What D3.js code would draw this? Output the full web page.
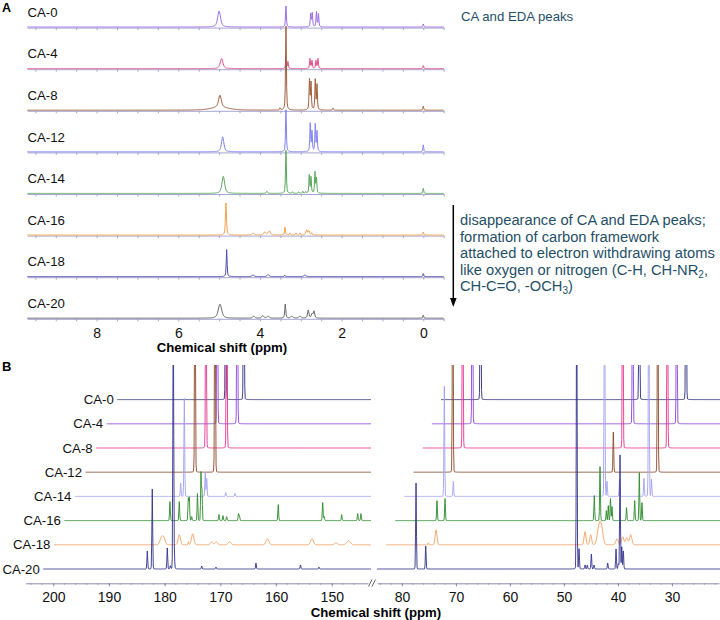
<!DOCTYPE html>
<html><head><meta charset="utf-8">
<script src="https://cdn.jsdelivr.net/npm/d3@7"></script>
<style>body{margin:0;background:#fff} svg{display:block;font-family:"Liberation Sans",Arial,Helvetica,sans-serif}</style>
</head><body><svg id="c" width="720" height="620"></svg>
<script>
// ---------- DATA ----------
const T = 300; // peak running off the top of panel B (clipped)
const sampleLabels = ["CA-0","CA-4","CA-8","CA-12","CA-14","CA-16","CA-18","CA-20"];

// Panel A: 1H NMR peaks [ppm, intensity, optional half-width ppm]
const hCA0  = [[5.00,16,0.042],[3.363,21],[2.758,13],[2.719,14],[2.616,15],[2.567,13],[0,3]];
const hCA4  = [[4.94,10,0.04],[3.363,8],[3.314,7],[2.775,10],[2.726,8],[2.628,8],[2.579,10],[0,3]];
const hCA8  = [[4.98,12,0.04],[4.98,3,0.25],[3.363,84],[2.787,30],[2.750,27],[2.645,30],[2.603,25],[3.51,2],[2.21,2],[0,4]];
const hCA12 = [[4.913,15,0.035],[3.363,42],[2.768,28],[2.726,20],[2.645,27],[2.603,20],[0,7]];
const hCA14 = [[4.898,17,0.04],[3.363,43],[2.792,18],[2.750,16],[2.652,21],[2.616,15],[3.83,2,0.02],[3.20,1.5],[3.05,1.5],[2.95,2],[2.88,1.5],[0,5]];
const hCA16 = [[4.832,32,0.015],[4.164,2,0.03],[3.877,3,0.03],[3.772,4,0.03],[3.387,8],[3.265,2],[3.118,2],[3.02,2],[2.856,5,0.02],[2.80,4,0.02],[2.73,2],[0,3]];
const hCA18 = [[4.815,27,0.012],[4.17,1.5,0.03],[3.80,2,0.03],[3.39,1.5],[2.90,1.5,0.03],[0,3]];
const hCA20 = [[4.979,14,0.05],[4.15,2,0.03],[3.93,2.5,0.03],[3.80,2,0.03],[3.38,14,0.015],[3.22,2,0.03],[3.02,2,0.03],[2.817,8,0.02],[2.726,4,0.02],[2.677,7,0.02],[0,3]];
const hPeaks = [hCA0,hCA4,hCA8,hCA12,hCA14,hCA16,hCA18,hCA20];
const hColors = ["#9d6ee6","#e4508c","#a0603e","#8484f0","#5aa85a","#f5a24e","#4c4caa","#666666"];
const hTicks = [8,6,4,2,0];

// Panel B: 13C NMR peaks [ppm, intensity, optional half-width ppm]
const cCA0  = [[182.32,T],[179.08,T],[77.31,T],[47.91,T],[39.26,T]];
const cCA4  = [[181.95,T],[178.36,T],[77.14,T],[47.44,T],[39.29,T]];
const cCA8  = [[182.08,T],[178.36,T],[77.23,T],[47.59,T],[39.33,T]];
const cCA12 = [[182.15,T],[178.56,T],[77.38,T],[47.64,40],[39.42,T]];
const cCA14 = [[182.82,13],[182.17,98],[178.41,24],[178.15,18],[174.73,4],[173.07,3],[77.25,110],[75.58,15],[47.58,T],[47.12,15],[44.80,17],[40.27,18],[39.38,T],[38.88,17]];
const cCA16 = [[182.85,19],[181.18,19],[179.56,22],[179.38,23],[178.95,4],[177.91,27],[177.28,48],[177.10,30],[174.05,6],[173.33,5],[172.67,4],[170.55,7],[170.37,5],[163.41,16],[155.43,18],[155.15,4],[152.02,6],[149.15,7],[148.56,7],
               [76.91,20],[75.42,22],[47.78,25],[46.72,54],[45.55,10],[45.19,15],[44.78,22],[44.50,14],[41.81,13],[40.30,20],[39.44,48],[38.95,18]];
const cCA18 = [[182.44,7,0.35],[182.03,5,0.3],[179.28,10,0.25],[177.66,3],[176.87,11,0.25],[173.46,3,0.25],[172.64,3,0.25],[170.27,3,0.3],[163.44,6,0.3],[155.46,6,0.3],[151.15,2,0.3],[149.05,3,0.3],[148.63,2,0.3],
               [76.82,2],[75.39,15,0.2],[47.81,13,0.2],[46.75,10,0.2],[45.40,10,0.3],[45.03,16,0.3],[44.66,12,0.3],[41.88,6,0.25],[40.83,8,0.25],[40.08,7,0.25],[39.34,10,0.25]];
const cCA20 = [[183.12,18],[182.23,80],[179.53,21],[178.99,3],[178.46,T],[178.28,15],[173.36,3],[170.79,2],[163.61,6],[155.62,4],[152.3,2],
               [77.41,86],[75.61,23],[47.65,T],[47.22,20],[46.11,4],[45.69,4],[44.94,15],[44.44,4],[41.91,6],[40.37,20],[39.94,5],[39.63,114],[39.31,22],[39.02,18]];
const cPeaks = [cCA0,cCA4,cCA8,cCA12,cCA14,cCA16,cCA18,cCA20];
const cColors = ["#2d2d7e","#8c42d8","#e6338c","#8b4726","#a2a2f0","#2a8a2a","#f4a062","#30308a"];
const cTicksLeft = [200,190,180,170,160,150];
const cTicksRight = [80,70,60,50,40,30];

// ---------- DRAW ----------
const svg = d3.select("#c");
const yInt = d3.scaleLinear().domain([0,100]).range([0,100]);
function shape(d,w,eta){ const r=d/w; return (1-eta)*Math.exp(-Math.LN2*r*r) + eta/(1+r*r); }
function tracePath(peaks, scale, dx, ppmFrom, ppmTo, defW, eta, base){
  const a = scale(ppmFrom)+dx, b = scale(ppmTo)+dx;
  const lo = Math.min(a,b), hi = Math.max(a,b);
  const pk = peaks.map(p=>({c:scale(p[0])+dx, h:yInt(p[1]), w:Math.abs(scale(p[0]+(p[2]||defW))-scale(p[0]))}))
                  .filter(p=>p.c>=lo-30 && p.c<=hi+30);
  const xs = d3.range(lo,hi,0.5).concat([hi]).concat(pk.map(p=>p.c).filter(c=>c>=lo&&c<=hi)).sort(d3.ascending);
  return d3.line()(xs.map(x=>[x, base - d3.sum(pk,p=>p.h*shape(x-p.c,p.w,eta))]));
}

// Panel A
const xTop = d3.scaleLinear().domain([9.7,-0.5]).range([27.2,443.7]);
const topBase = i => 27 + 41.6*i;
sampleLabels.forEach((lab,i)=>{
  const g = svg.append("g").attr("transform",`translate(0,${topBase(i)+0.6})`)
    .call(d3.axisBottom(xTop).tickValues(d3.range(-0.5,9.51,0.5)).tickSize(2.5).tickSizeOuter(0).tickPadding(6.5)
      .tickFormat(d => (i===7 && hTicks.includes(d)) ? d : ""));
  g.select(".domain").attr("stroke","#a6a6d2");
  g.selectAll(".tick line").attr("stroke","#a6a6d2");
  g.selectAll("text").attr("font-size",14).attr("fill","#111").attr("font-family","Liberation Sans, Arial, sans-serif");
});
sampleLabels.forEach((lab,i)=>{
  svg.append("path").attr("d",tracePath(hPeaks[i],xTop,0,9.7,-0.5,0.012,0.6,topBase(i)))
    .attr("fill","none").attr("stroke",hColors[i]).attr("stroke-width",1);
  svg.append("text").attr("x",27.5).attr("y",topBase(i)-10.3).attr("font-size",13.2).attr("fill","#111").text(lab);
});
svg.append("text").attr("x",222).attr("y",351.5).attr("text-anchor","middle").attr("font-size",13.2)
  .attr("font-weight","bold").text("Chemical shift (ppm)");
svg.append("text").attr("x",2).attr("y",12).attr("font-size",12.5).attr("font-weight","bold").text("A");

// Annotations
const teal = "#1f4f66";
svg.append("text").attr("x",461).attr("y",21).attr("font-size",13.2).attr("fill",teal).text("CA and EDA peaks");
svg.append("line").attr("x1",453.3).attr("x2",453.3).attr("y1",205).attr("y2",300).attr("stroke","#000").attr("stroke-width",1.5);
svg.append("path").attr("d","M450,298L456.6,298L453.3,307Z").attr("fill","#000");
const note = svg.append("text").attr("font-size",14.7).attr("fill",teal);
[["disappearance of CA and EDA peaks;"],["formation of carbon framework"],["attached to electron withdrawing atoms"],
 ["like oxygen or nitrogen (C-H, CH-NR","2",","],["CH-C=O, -OCH","3",")"]].forEach((ln,k)=>{
  note.append("tspan").attr("x",460).attr("y",225+16.5*k).text(ln[0]);
  if(ln.length>1){
    note.append("tspan").attr("font-size",10).attr("dy",3).text(ln[1]);
    note.append("tspan").attr("dy",-3).text(ln[2]);
  }
});

// Panel B
const xL = d3.scaleLinear().domain([205,143.5]).range([25.45,368]);
const xR = d3.scaleLinear().domain([84.6,21.3]).range([377.2,719]);
const defs = svg.append("defs");
defs.append("clipPath").attr("id","clipL").append("rect").attr("x",0).attr("y",365).attr("width",371).attr("height",240);
defs.append("clipPath").attr("id","clipR").append("rect").attr("x",376).attr("y",365).attr("width",344).attr("height",240);
const gL = svg.append("g").attr("clip-path","url(#clipL)");
const gR = svg.append("g").attr("clip-path","url(#clipR)");
sampleLabels.forEach((lab,j)=>{
  const k = 7-j;
  const base = 569 - 24.2*k, dxL = 10.57*k, dxR = 9.14*k;
  gL.append("path").attr("d",tracePath(cPeaks[j].filter(p=>p[0]>100),xL,dxL,201.8,135,0.08,0.03,base))
    .attr("fill","none").attr("stroke",cColors[j]).attr("stroke-width",0.9);
  gR.append("path").attr("d",tracePath(cPeaks[j].filter(p=>p[0]<100),xR,dxR,84.63,10,0.08,0.03,base))
    .attr("fill","none").attr("stroke",cColors[j]).attr("stroke-width",0.9);
  svg.append("text").attr("x",xL(201.8)+dxL-3.5).attr("y",base).attr("dy","0.35em").attr("text-anchor","end")
    .attr("font-size",13.2).attr("fill","#111").text(lab);
});
const axisY = 583.3, axCol = "#8a8ab8";
[[xL,cTicksLeft,d3.range(146,205,2)],[xR,cTicksRight,d3.range(22,85,2)]].forEach(([sc,tv,minor])=>{
  const g = svg.append("g").attr("transform",`translate(0,${axisY})`)
    .call(d3.axisBottom(sc).tickValues(tv).tickSize(3).tickSizeOuter(0).tickPadding(5.5));
  g.select(".domain").attr("stroke",axCol);
  g.selectAll(".tick line").attr("stroke",axCol);
  g.selectAll("text").attr("font-size",14).attr("fill","#111").attr("font-family","Liberation Sans, Arial, sans-serif");
  svg.append("g").selectAll("line").data(minor).join("line")
    .attr("x1",d=>sc(d)).attr("x2",d=>sc(d)).attr("y1",axisY).attr("y2",axisY+1.5).attr("stroke",axCol).attr("stroke-width",0.8);
});
svg.append("path").attr("d","M368.5,586.5L372,579.5M372,586.5L375.5,579.5").attr("stroke","#555").attr("stroke-width",0.9).attr("fill","none");
svg.append("text").attr("x",376).attr("y",616.5).attr("text-anchor","middle").attr("font-size",13.2)
  .attr("font-weight","bold").text("Chemical shift (ppm)");
svg.append("text").attr("x",2).attr("y",370.5).attr("font-size",13).attr("font-weight","bold").text("B");
</script></body></html>
